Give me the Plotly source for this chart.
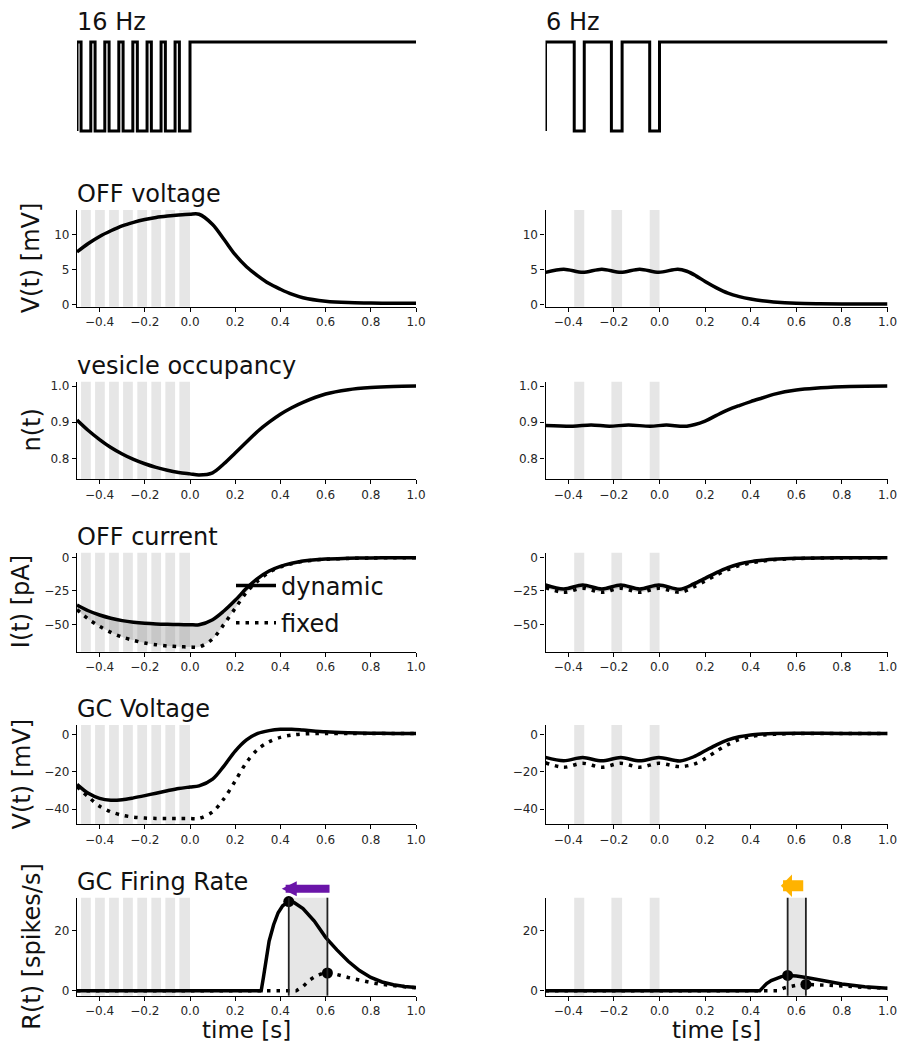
import plotly.graph_objects as go
from plotly.subplots import make_subplots

# ---------------- data ----------------
# stimulus dark phases (gray bars)
bars16_start = [-0.482, -0.420, -0.358, -0.296, -0.233, -0.171, -0.109, -0.047]
bars16_end = [-0.439, -0.377, -0.315, -0.253, -0.190, -0.128, -0.066, 0.000]
bars6_start = [-0.374, -0.211, -0.043]
bars6_end = [-0.330, -0.164, 0.000]

# ---- left column (16 Hz) ----
tL = [-0.5, -0.45, -0.4, -0.35, -0.3, -0.25, -0.2, -0.15, -0.1, -0.05, 0.0, 0.04,
      0.1, 0.15, 0.2, 0.25, 0.3, 0.35, 0.4, 0.45, 0.5, 0.6, 0.7, 0.8, 0.9, 1.0]
off_v_L = [7.5, 8.7, 9.7, 10.5, 11.2, 11.7, 12.1, 12.4, 12.6, 12.75, 12.85, 12.85,
           11.4, 9.3, 7.1, 5.4, 4.1, 3.0, 2.2, 1.5, 1.0, 0.5, 0.3, 0.25, 0.2, 0.2]
ves_L = [0.906, 0.877, 0.852, 0.830, 0.812, 0.797, 0.785, 0.775, 0.767, 0.761, 0.757, 0.754,
         0.760, 0.785, 0.815, 0.845, 0.875, 0.900, 0.922, 0.940, 0.955, 0.978, 0.990, 0.996, 0.999, 1.000]
cur_dyn_L = [-35.5, -39.8, -43.0, -45.4, -47.2, -48.4, -49.2, -49.7, -50.0, -50.2, -50.3, -50.3,
             -46.5, -40.0, -32.0, -23.0, -15.5, -10.0, -6.5, -4.2, -2.5, -1.0, -0.5, -0.2, -0.1, 0.0]
cur_fix_L = [-39.0, -46.0, -51.5, -56.0, -59.5, -62.0, -64.0, -65.3, -66.2, -66.7, -67.0, -67.0,
             -61.0, -50.0, -38.0, -26.0, -17.5, -11.0, -7.0, -4.6, -2.8, -1.2, -0.6, -0.3, -0.1, 0.0]
gc_dyn_L = [-26.8, -31.6, -34.3, -35.3, -35.0, -34.0, -32.8, -31.5, -30.2, -29.0, -28.2, -27.6,
            -24.0, -17.0, -9.0, -3.0, 0.5, 2.0, 2.7, 2.7, 2.3, 1.4, 0.9, 0.6, 0.5, 0.5]
gc_fix_L = [-28.0, -33.5, -38.5, -41.5, -43.3, -44.3, -44.8, -45.0, -45.1, -45.1, -45.1, -45.0,
            -41.5, -34.5, -25.0, -15.0, -8.0, -4.0, -1.6, -0.4, 0.2, 0.5, 0.5, 0.5, 0.5, 0.5]

t_rate_dyn_L = [-0.5, 0.315, 0.325, 0.335, 0.35, 0.37, 0.39, 0.41, 0.437, 0.46, 0.5, 0.55,
                0.6, 0.65, 0.7, 0.75, 0.8, 0.85, 0.9, 0.95, 1.0]
rate_dyn_L = [0.0, 0.0, 4.5, 10.0, 16.5, 22.0, 26.0, 28.3, 29.7, 29.4, 27.4, 23.2,
              17.8, 13.6, 9.8, 6.7, 4.4, 2.9, 2.0, 1.4, 1.1]
t_rate_fix_L = [-0.5, 0.47, 0.5, 0.53, 0.56, 0.585, 0.608, 0.65, 0.7, 0.75, 0.8, 0.85, 0.9, 0.95, 1.0]
rate_fix_L = [0.0, 0.0, 1.4, 3.6, 5.0, 5.7, 5.9, 5.4, 4.4, 3.5, 2.7, 2.1, 1.6, 1.3, 1.0]
peaks_t_L = [0.437, 0.608]
peaks_v_L = [29.7, 5.9]
arrow_L = dict(tail=0.624, tip=0.406, y=34.0, color="#6a14a8", width=8, head=2, size=0.375)

# ---- right column (6 Hz) ----
tR1 = [-0.5, -0.42, -0.337, -0.253, -0.17, -0.087, -0.003, 0.08, 0.12, 0.16, 0.2, 0.25,
       0.3, 0.35, 0.4, 0.45, 0.5, 0.6, 0.7, 0.8, 1.0]
off_v_R = [4.6, 5.05, 4.6, 5.05, 4.6, 5.05, 4.6, 5.05, 4.75, 4.1, 3.3, 2.4,
           1.65, 1.15, 0.8, 0.55, 0.4, 0.22, 0.15, 0.12, 0.1]
tR2 = [-0.5, -0.38, -0.30, -0.22, -0.136, -0.04, 0.03, 0.12, 0.2, 0.25, 0.3, 0.35, 0.4,
       0.45, 0.5, 0.6, 0.8, 1.0]
ves_R = [0.891, 0.889, 0.892, 0.889, 0.892, 0.889, 0.892, 0.889, 0.903, 0.919, 0.934, 0.946, 0.957,
         0.967, 0.977, 0.989, 0.998, 1.000]
tR = [-0.5, -0.42, -0.337, -0.253, -0.17, -0.087, -0.003, 0.09, 0.15, 0.2, 0.25, 0.3,
      0.35, 0.4, 0.45, 0.5, 0.6, 0.8, 1.0]
cur_dyn_R = [-20.5, -23.5, -20.5, -23.5, -20.5, -23.5, -20.5, -23.7, -19.7, -15.5, -11.2, -7.5,
             -4.8, -3.0, -2.0, -1.2, -0.5, -0.1, 0.0]
cur_fix_R = [-22.5, -26.0, -23.0, -26.0, -23.0, -26.0, -23.0, -26.0, -22.0, -17.5, -13.0, -9.0,
             -6.0, -4.0, -2.6, -1.6, -0.7, -0.2, 0.0]
gc_dyn_R = [-12.3, -14.1, -12.4, -14.2, -12.4, -14.2, -12.4, -14.3, -12.0, -8.8, -5.6, -3.0,
            -1.3, -0.3, 0.2, 0.5, 0.6, 0.5, 0.5]
gc_fix_R = [-15.2, -17.6, -15.5, -17.6, -15.5, -17.6, -15.5, -17.3, -16.0, -13.0, -9.0, -5.5,
            -2.8, -1.2, -0.4, 0.0, 0.4, 0.5, 0.5]
t_rate_dyn_R = [-0.5, 0.44, 0.455, 0.47, 0.49, 0.51, 0.535, 0.562, 0.6, 0.65, 0.7, 0.75, 0.8, 0.9, 1.0]
rate_dyn_R = [0.0, 0.0, 1.2, 2.4, 3.4, 4.1, 4.7, 5.1, 4.9, 4.3, 3.6, 2.9, 2.2, 1.3, 0.8]
t_rate_fix_R = [-0.5, 0.52, 0.55, 0.58, 0.61, 0.642, 0.7, 0.8, 0.9, 1.0]
rate_fix_R = [0.0, 0.0, 1.0, 1.6, 2.0, 2.1, 2.0, 1.6, 1.1, 0.8]
peaks_t_R = [0.562, 0.642]
peaks_v_R = [5.1, 2.1]
arrow_R = dict(tail=0.637, tip=0.532, y=35.0, color="#ffb300", width=11, head=1, size=0.34)

# axes / labels
col_titles = ["16 Hz", "6 Hz"]
row_titles = ["OFF voltage", "vesicle occupancy", "OFF current", "GC Voltage", "GC Firing Rate"]
ylabels = ["V(t) [mV]", "n(t)", "I(t) [pA]", "V(t) [mV]", "R(t) [spikes/s]"]
ylabel_x = [31, 31, 21, 21, 32]          # label centre, px from left edge of page
xlabel = "time [s]"
xticks = [-0.4, -0.2, 0.0, 0.2, 0.4, 0.6, 0.8, 1.0]
xticklabels = ["\u22120.4", "\u22120.2", "0.0", "0.2", "0.4", "0.6", "0.8", "1.0"]
yticks = {2: [0, 5, 10], 3: [0.8, 0.9, 1.0], 4: [-50, -25, 0], 5: [-40, -20, 0], 6: [0, 20]}
yticklabels = {2: ["0", "5", "10"], 3: ["0.8", "0.9", "1.0"], 4: ["\u221250", "\u221225", "0"],
               5: ["\u221240", "\u221220", "0"], 6: ["0", "20"]}
yranges = {1: [-0.05, 1.05], 2: [-0.28, 13.45], 3: [0.742, 1.012], 4: [-70.5, 3.7],
           5: [-48.0, 5.0], 6: [-1.67, 31.0]}

# ---------------- figure ----------------
FW, FH = 897, 1044
FONT = "DejaVu Sans"
BAR = "#e6e6e6"
LW = 3.5
DOT = "3.5px,6px"
TXT = "#111111"


def fx(px):
    return px / FW


def fy(py):
    return 1 - py / FH


fig = make_subplots(rows=6, cols=2)

xdom = {1: [fx(77), fx(416)], 2: [fx(545.5), fx(887.5)]}
ypx = {1: (37.5, 135.5), 2: (210, 306.7), 3: (381.7, 479.3), 4: (552.7, 651.7),
       5: (725, 824), 6: (897.7, 995.7)}


def axname(r, c):
    i = (r - 1) * 2 + c
    return ("" if i == 1 else str(i))


def stim_steps(starts, ends):
    xs, ys = [-0.5, -0.5], [0, 1]
    for s, e in zip(starts, ends):
        xs += [s, s, e, e]
        ys += [1, 0, 0, 1]
    xs.append(1.0)
    ys.append(1)
    return xs, ys


def line(x, y, r, c, dash=None, name=None, legend=False, fill=None, shape="spline", width=LW):
    fig.add_trace(go.Scatter(
        x=x, y=y, mode="lines", name=name, showlegend=legend, legendgroup=name,
        line=dict(color="black", width=width, dash=dash, shape=shape, smoothing=0.9),
        fill=fill, fillcolor="rgba(120,120,120,0.28)", hoverinfo="skip"), row=r, col=c)


bars = {1: (bars16_start, bars16_end), 2: (bars6_start, bars6_end)}

# stimulus
for c in (1, 2):
    sx, sy = stim_steps(*bars[c])
    fig.add_trace(go.Scatter(x=sx, y=sy, mode="lines", showlegend=False,
                             line=dict(color="black", width=3), hoverinfo="skip"), row=1, col=c)

# gray bars in rows 2..6
for c in (1, 2):
    for r in range(2, 7):
        for s, e in zip(*bars[c]):
            fig.add_vrect(x0=s, x1=e, fillcolor=BAR, line_width=0, layer="below",
                          row=r, col=c, exclude_empty_subplots=False)

# OFF voltage
line(tL, off_v_L, 2, 1)
line(tR1, off_v_R, 2, 2)
# vesicle occupancy
line(tL, ves_L, 3, 1)
line(tR2, ves_R, 3, 2)
# OFF current with fill between (fill drawn by helper traces without legend)
line(tL, cur_fix_L, 4, 1, width=0)
line(tL, cur_dyn_L, 4, 1, fill="tonexty", width=0)
line(tL, cur_dyn_L, 4, 1, name="dynamic", legend=True)
line(tL, cur_fix_L, 4, 1, dash=DOT, name="fixed", legend=True)
line(tR, cur_fix_R, 4, 2, width=0)
line(tR, cur_dyn_R, 4, 2, fill="tonexty", width=0)
line(tR, cur_dyn_R, 4, 2)
line(tR, cur_fix_R, 4, 2, dash=DOT)
# GC voltage
line(tL, gc_dyn_L, 5, 1)
line(tL, gc_fix_L, 5, 1, dash=DOT)
line(tR, gc_dyn_R, 5, 2)
line(tR, gc_fix_R, 5, 2, dash=DOT)

# firing rates
for c, td, rd, tf, rf, pt, pv, arr in [
        (1, t_rate_dyn_L, rate_dyn_L, t_rate_fix_L, rate_fix_L, peaks_t_L, peaks_v_L, arrow_L),
        (2, t_rate_dyn_R, rate_dyn_R, t_rate_fix_R, rate_fix_R, peaks_t_R, peaks_v_R, arrow_R)]:
    fig.add_vrect(x0=pt[0], x1=pt[1], fillcolor=BAR, line_width=0, layer="below",
                  row=6, col=c, exclude_empty_subplots=False)
    for p in pt:
        fig.add_vline(x=p, line=dict(color="#222222", width=1.8), row=6, col=c,
                      exclude_empty_subplots=False)
    line(td, rd, 6, c, shape="linear")
    line(tf, rf, 6, c, dash=DOT, shape="linear")
    fig.add_trace(go.Scatter(x=pt, y=pv, mode="markers", showlegend=False, cliponaxis=False,
                             marker=dict(color="black", size=11), hoverinfo="skip"), row=6, col=c)
    n = axname(6, c)
    r0, r1 = yranges[6]
    yfrac = (arr["y"] - r0) / (r1 - r0)
    fig.add_annotation(x=arr["tip"], y=yfrac, ax=arr["tail"], ay=0,
                       xref="x" + n, yref=f"y{n} domain", axref="x" + n, ayref="pixel",
                       text="", showarrow=True, arrowhead=arr["head"], arrowsize=arr["size"],
                       arrowwidth=arr["width"], arrowcolor=arr["color"], standoff=0)
    # x-axis label
    fig.add_annotation(text=xlabel, xref=f"x{n} domain", yref=f"y{n} domain", x=0.5, y=0,
                       yshift=-34, xanchor="center", yanchor="middle", showarrow=False,
                       font=dict(family=FONT, size=23, color=TXT))

# axes styling
for r in range(1, 7):
    for c in (1, 2):
        n = axname(r, c)
        top, bot = ypx[r]
        xa = dict(domain=xdom[c], range=[-0.5, 1.0], zeroline=False, showgrid=False, automargin=False)
        ya = dict(domain=[fy(bot), fy(top)], range=yranges[r], zeroline=False, showgrid=False,
                  automargin=False)
        if r == 1:
            xa.update(visible=False)
            ya.update(visible=False)
        else:
            common = dict(showline=True, linecolor="black", linewidth=1.2, ticks="outside",
                          ticklen=4, tickwidth=1.2, tickcolor="black", ticklabeloverflow="allow",
                          tickfont=dict(family=FONT, size=12, color="#262626"))
            xa.update(common, tickmode="array", tickvals=xticks, ticktext=xticklabels)
            ya.update(common, tickmode="array", tickvals=yticks[r], ticktext=yticklabels[r])
        fig.layout["xaxis" + n].update(xa)
        fig.layout["yaxis" + n].update(ya)

# titles
for c in (1, 2):
    n = axname(1, c)
    fig.add_annotation(text=col_titles[c - 1], xref=f"x{n} domain", yref=f"y{n} domain",
                       x=0, y=1, xanchor="left", yanchor="middle", yshift=16, xshift=-2,
                       showarrow=False, font=dict(family=FONT, size=24, color=TXT))
for r in range(2, 7):
    n = axname(r, 1)
    fig.add_annotation(text=row_titles[r - 2], xref=f"x{n} domain", yref=f"y{n} domain",
                       x=0, y=1, xanchor="left", yanchor="middle", yshift=16, xshift=-2,
                       showarrow=False, font=dict(family=FONT, size=24, color=TXT))
    fig.add_annotation(text=ylabels[r - 2], xref=f"x{n} domain", yref=f"y{n} domain",
                       x=0, y=0.5, xshift=ylabel_x[r - 2] - 77, xanchor="center", yanchor="middle",
                       textangle=-90, showarrow=False, font=dict(family=FONT, size=24, color=TXT))

fig.update_layout(
    width=FW, height=FH, margin=dict(l=0, r=0, t=0, b=0, autoexpand=False),
    paper_bgcolor="white", plot_bgcolor="white",
    font=dict(family=FONT, color=TXT),
    showlegend=True,
    legend=dict(x=fx(231), y=fy(563.5), xanchor="left", yanchor="top", traceorder="grouped",
                bgcolor="rgba(0,0,0,0)", font=dict(family=FONT, size=24, color=TXT),
                tracegroupgap=3, itemwidth=40),
)

fig.write_html("out.html", config={"displayModeBar": False},
               post_script="document.body.style.margin='0px';document.body.style.overflow='hidden';")
